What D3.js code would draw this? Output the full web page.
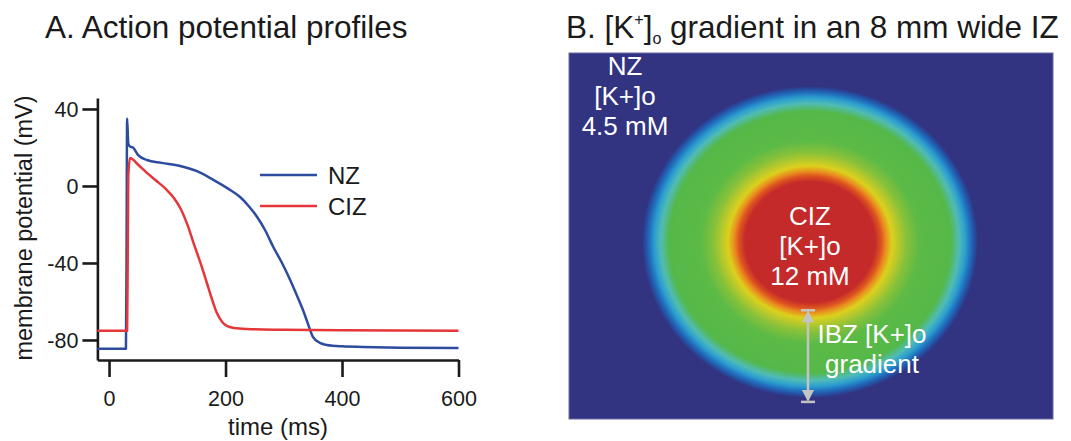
<!DOCTYPE html>
<html><head><meta charset="utf-8">
<script src="https://cdn.jsdelivr.net/npm/d3@7"></script>
<style>body{margin:0;background:#fff}svg{display:block}text{font-family:Arial,"Liberation Sans",sans-serif}</style>
</head><body>
<svg id="c" width="1071" height="441"></svg>
<script>
// ---- Panel A data: action potentials (time ms, membrane potential mV)
const nzTime = [-20, 29, 30, 31, 33, 36, 41, 50, 65, 90, 122, 150, 179, 205, 225, 240, 254, 268, 282, 297, 311, 322, 333, 342, 350, 362, 374, 400, 436, 500, 600];
const nzVm   = [-84.5, -84.5, -40, 35, 22, 20.5, 20, 16, 13.5, 12, 10.4, 7.8, 3.2, -1.5, -5.7, -10.5, -16, -23, -31.7, -40, -48.8, -56.5, -64.4, -72, -78.4, -81.5, -82.6, -83.3, -83.6, -84, -84.2];
const cizTime = [-20, 31, 32, 33, 36, 50, 65, 80, 99, 112, 124, 135, 145, 157, 168, 177, 185, 194, 202, 215, 237, 300, 400, 600];
const cizVm   = [-75.2, -75.2, -40, 5, 14.5, 11, 6.8, 3, -2, -6.5, -12.5, -20.5, -29.6, -40, -50.4, -59, -65.9, -70.5, -72.7, -73.8, -74.3, -74.7, -75, -75.2];
const seriesNames = ["NZ", "CIZ"];
const seriesColors = ["#2d4b9f", "#e5363a"];
const xTicks = [0, 200, 400, 600];
const yTicks = [-80, -40, 0, 40];

// ---- Panel B data: radial [K+]o profile across the 8 mm wide ischemic zone
const izRadiusMm = [0, 1.55, 1.7, 1.8, 1.95, 2.1, 2.3, 2.6, 3.0, 3.35, 3.55, 3.7, 3.82, 3.92, 4.0];
const izK        = [12, 12, 11.5, 11, 10.3, 9.7, 9.1, 8.6, 8.0, 7.4, 6.7, 6.1, 5.5, 5.0, 4.5];
const kStops  = [4.5, 5.2, 5.9, 6.6, 7.4, 8.6, 9.6, 10.3, 11.0, 11.7, 12];
const kColors = ["#323381", "#2157ad", "#1f93d4", "#4fbdc4", "#54b848", "#5cba46", "#b2c82e", "#dcd01c", "#e98a1f", "#d8401f", "#c52a2a"];

const svg = d3.select("#c");
const ink = "#1a1a1a";

// ===== Panel A =====
const x = d3.scaleLinear().domain([-20, 600]).range([97.4, 458.5]);
const y = d3.scaleLinear().domain([-90.4, 45.7]).range([360, 98]);

svg.append("text").attr("x", 45).attr("y", 38).attr("font-size", 31.5).attr("fill", ink)
  .text("A. Action potential profiles");

const fmt = d => String(d);
const gx = svg.append("g").attr("transform", "translate(0,360)")
  .call(d3.axisBottom(x).tickValues(xTicks).tickFormat(fmt).tickSize(17).tickSizeOuter(0).tickPadding(14));
const gy = svg.append("g").attr("transform", "translate(97.4,0)")
  .call(d3.axisLeft(y).tickValues(yTicks).tickFormat(fmt).tickSize(15).tickSizeOuter(0).tickPadding(4));
[gx, gy].forEach(g => {
  g.selectAll("path.domain").attr("stroke", ink).attr("stroke-width", 2.6);
  g.selectAll(".tick line").attr("stroke", ink).attr("stroke-width", 2.6);
  g.selectAll(".tick text").attr("font-size", 21.5).attr("fill", ink)
   .attr("font-family", "Arial, 'Liberation Sans', sans-serif");
});
gy.selectAll(".tick text").attr("dy", "0.36em");

svg.append("text").attr("x", 278).attr("y", 435).attr("text-anchor", "middle")
  .attr("font-size", 24).attr("fill", ink).text("time (ms)");
svg.append("text").attr("transform", "translate(32,228) rotate(-90)").attr("text-anchor", "middle")
  .attr("font-size", 23.5).attr("fill", ink).text("membrane potential (mV)");

const line = d3.line().x(d => x(d[0])).y(d => y(d[1])).curve(d3.curveMonotoneX);
const series = [d3.zip(nzTime, nzVm), d3.zip(cizTime, cizVm)];
series.forEach((s, i) => {
  svg.append("path").datum(s).attr("d", line).attr("fill", "none")
    .attr("stroke", seriesColors[i]).attr("stroke-width", 2.5).attr("stroke-linejoin", "round");
});
seriesNames.forEach((n, i) => {
  const ly = 175 + i * 31;
  svg.append("line").attr("x1", 260).attr("x2", 317).attr("y1", ly).attr("y2", ly)
    .attr("stroke", seriesColors[i]).attr("stroke-width", 2.5);
  svg.append("text").attr("x", 328).attr("y", ly + 9).attr("font-size", 24).attr("fill", ink).text(n);
});

// ===== Panel B =====
const tB = svg.append("text").attr("x", 566).attr("y", 38).attr("font-size", 31.5).attr("fill", ink);
tB.append("tspan").text("B. [K");
tB.append("tspan").attr("font-size", 16).attr("dy", -13).text("+");
tB.append("tspan").attr("dy", 13).text("]");
tB.append("tspan").attr("font-size", 16).attr("dy", 6).text("o");
tB.append("tspan").attr("dy", -6).text(" gradient in an 8 mm wide IZ");

const map = {x0: 569, x1: 1053, y0: 53, y1: 419};
svg.append("rect").attr("x", map.x0).attr("y", map.y0).attr("width", map.x1 - map.x0).attr("height", map.y1 - map.y0)
  .attr("fill", kColors[0]).attr("stroke", "#6a6aa6").attr("stroke-width", 1);

const kColor = d3.scaleLinear().domain(kStops).range(kColors).interpolate(d3.interpolateRgb);
const rOff = d3.scaleLinear().domain([0, 4]).range([0, 1]);
const grad = svg.append("defs").append("radialGradient").attr("id", "kgrad")
  .attr("cx", "50%").attr("cy", "50%").attr("r", "50%");
grad.selectAll("stop").data(d3.zip(izRadiusMm, izK)).join("stop")
  .attr("offset", d => rOff(d[0])).attr("stop-color", d => kColor(d[1]));
const mmX = d3.scaleLinear().domain([-4, 4]).range([642, 978]);
const mmY = d3.scaleLinear().domain([-4, 4]).range([86, 398]);
svg.append("ellipse").attr("cx", mmX(0)).attr("cy", mmY(0))
  .attr("rx", mmX(4) - mmX(0)).attr("ry", mmY(4) - mmY(0)).attr("fill", "url(#kgrad)");

const white = "#ffffff";
function lines(cx, y0, arr) {
  arr.forEach((t, i) => svg.append("text").attr("x", cx).attr("y", y0 + i * 30)
    .attr("text-anchor", "middle").attr("font-size", 26).attr("fill", white).text(t));
}
lines(625, 75, ["NZ", "[K+]o", "4.5 mM"]);
lines(810, 225, ["CIZ", "[K+]o", "12 mM"]);
lines(872, 343, ["IBZ [K+]o", "gradient"]);

// IBZ gradient arrow
const ag = "#c4c4c4", ax = 808, ay0 = mmY(1.75), ay1 = mmY(4.1);
svg.append("line").attr("x1", ax).attr("x2", ax).attr("y1", ay0 + 4).attr("y2", ay1 - 4).attr("stroke", ag).attr("stroke-width", 2.5);
[ay0, ay1].forEach((yy, i) => {
  svg.append("line").attr("x1", ax - 7).attr("x2", ax + 7).attr("y1", yy).attr("y2", yy).attr("stroke", ag).attr("stroke-width", 2.5);
  const dir = i === 0 ? 1 : -1;
  svg.append("path").attr("fill", ag)
    .attr("d", `M${ax},${yy} L${ax - 6},${yy + dir * 12} L${ax + 6},${yy + dir * 12} Z`);
});
</script>
</body></html>
